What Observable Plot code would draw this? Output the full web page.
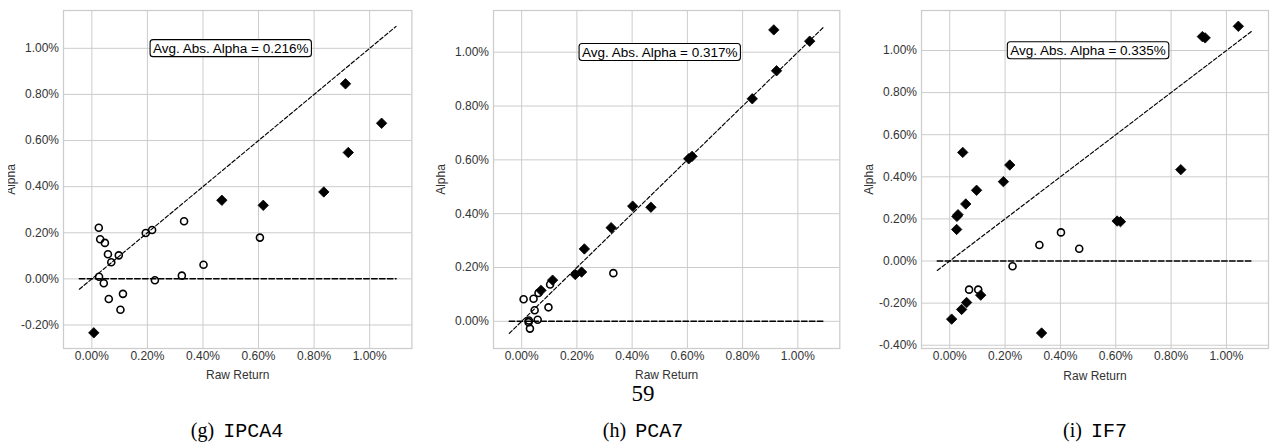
<!DOCTYPE html>
<html><head><meta charset="utf-8">
<script src="https://cdn.jsdelivr.net/npm/d3@7"></script>
<script src="https://cdn.jsdelivr.net/npm/@observablehq/plot@0.6"></script>
<style>
body{margin:0;background:#fff;}
#page{position:relative;width:1286px;height:447px;overflow:hidden;background:#fff;}
.clip{position:absolute;top:0;overflow:hidden;height:392px;}
.clip svg{position:absolute;top:0;max-width:none !important;height:auto;}
.clip svg text{font-family:"Liberation Sans", Arial, sans-serif;}
.cap{position:absolute;transform:translate(-50%,-50%);white-space:nowrap;font-family:"Liberation Serif",serif;font-size:20px;color:#000;line-height:1;}
.cap .tt{font-family:"Liberation Mono",monospace;margin-left:9px;}
</style></head><body><div id="page"></div>
<script>
// ---- data (percent units) ----
const rawReturn = [0.007, 0.025, 0.026, 0.030, 0.043, 0.047, 0.058, 0.061, 0.070, 0.097, 0.103, 0.112, 0.194, 0.217, 0.227, 0.324, 0.332, 0.402, 0.468, 0.605, 0.617, 0.835, 0.913, 0.923, 1.043];

const alphaIPCA4 = [-0.234, 0.222, 0.009, 0.172, -0.019, 0.156, 0.107, -0.087, 0.072, 0.102, -0.134, -0.065, 0.199, 0.212, -0.006, 0.014, 0.250, 0.061, 0.341, 0.179, 0.319, 0.377, 0.846, 0.548, 0.675];
const sigIPCA4   = [1, 0, 0, 0, 0, 0, 0, 0, 0, 0, 0, 0, 0, 0, 0, 0, 0, 0, 1, 0, 1, 1, 1, 1, 1];

const alphaPCA7  = [0.082, -0.003, 0.003, -0.027, 0.084, 0.041, 0.006, 0.105, 0.115, 0.052, 0.137, 0.153, 0.174, 0.183, 0.269, 0.348, 0.179, 0.428, 0.424, 0.604, 0.613, 0.827, 1.083, 0.931, 1.041];
const sigPCA7    = [0, 0, 0, 0, 0, 0, 0, 0, 1, 0, 0, 1, 1, 1, 1, 1, 0, 1, 1, 1, 1, 1, 1, 1, 1];

const alphaIF7   = [-0.276, 0.150, 0.212, 0.220, -0.230, 0.516, 0.271, -0.197, -0.136, 0.336, -0.136, -0.162, 0.377, 0.456, -0.025, 0.076, -0.342, 0.136, 0.058, 0.190, 0.187, 0.434, 1.066, 1.060, 1.115];
const sigIF7     = [1, 1, 1, 1, 1, 1, 1, 1, 0, 1, 0, 1, 1, 1, 0, 0, 1, 0, 0, 1, 1, 1, 1, 1, 1];

const panelLetters = ["(g)", "(h)", "(i)"];
const panelNames = ["IPCA4", "PCA7", "IF7"];
const avgAbsAlphaLabels = ["Avg. Abs. Alpha = 0.216%", "Avg. Abs. Alpha = 0.317%", "Avg. Abs. Alpha = 0.335%"];
const xTicks = [0, 0.2, 0.4, 0.6, 0.8, 1.0];
const yTicksIPCA4 = [-0.2, 0, 0.2, 0.4, 0.6, 0.8, 1.0];
const yTicksPCA7 = [0, 0.2, 0.4, 0.6, 0.8, 1.0];
const yTicksIF7 = [-0.4, -0.2, 0, 0.2, 0.4, 0.6, 0.8, 1.0];
const refLineX = [-0.045, 1.095];
const annotX = [0.5];
const annotY = [1.0];
const pageNumber = "59";

// ---- layout ----
const panels = [
  {alpha: alphaIPCA4, sig: sigIPCA4, yTicks: yTicksIPCA4, yDomain: [-0.302, 1.164], frameLeft: 63.3, frameRight: 411.7, clipLeft: 8, capX: 237},
  {alpha: alphaPCA7, sig: sigPCA7, yTicks: yTicksPCA7, yDomain: [-0.101, 1.155], frameLeft: 492.7, frameRight: 839, clipLeft: 425, capX: 643},
  {alpha: alphaIF7, sig: sigIF7, yTicks: yTicksIF7, yDomain: [-0.4155, 1.190], frameLeft: 920.7, frameRight: 1267.7, clipLeft: 863.5, capX: 1095}
];
const ML = 70, MR = 12, MT = 10, H = 392, frameBottom = 348;
const FONT = '"Liberation Sans", Arial, sans-serif';
const fmt = d => d.toFixed(2) + "%";
const page = document.getElementById("page");

panels.forEach((p, k) => {
  const data = rawReturn.map((x, i) => ({x, y: p.alpha[i], sig: p.sig[i] === 1}));
  const width = p.frameRight - p.frameLeft + ML + MR;
  const chart = Plot.plot({
    width, height: H,
    marginLeft: ML, marginRight: MR, marginTop: MT, marginBottom: H - frameBottom,
    style: {fontFamily: FONT, fontSize: "12px", color: "#333", background: "transparent"},
    x: {domain: [-0.102, 1.152]},
    y: {domain: p.yDomain},
    marks: [
      Plot.gridX(xTicks, {stroke: "#cccccc", strokeOpacity: 1, strokeWidth: 1}),
      Plot.gridY(p.yTicks, {stroke: "#cccccc", strokeOpacity: 1, strokeWidth: 1}),
      Plot.frame({stroke: "#cccccc", strokeWidth: 1.25}),
      Plot.axisX(xTicks, {tickSize: 0, tickPadding: 3, tickFormat: fmt, label: "Raw Return", labelAnchor: "center", labelArrow: "none", labelOffset: 31, fontSize: 12, fontFamily: FONT, fill: "#333"}),
      Plot.axisY(p.yTicks, {tickSize: 0, tickPadding: 4.5, tickFormat: fmt, label: "Alpha", labelAnchor: "center", labelArrow: "none", labelOffset: 57, fontSize: 12, fontFamily: FONT, fill: "#333"}),
      Plot.line(refLineX, {x: d => d, y: d => d, stroke: "black", strokeWidth: 1.15, strokeDasharray: "4,2.2"}),
      Plot.line(refLineX, {x: d => d, y: () => 0, stroke: "black", strokeWidth: 1.5, strokeDasharray: "5.5,2.4"}),
      Plot.dot(data.filter(d => !d.sig), {x: "x", y: "y", r: 3.5, fill: "none", stroke: "black", strokeWidth: 1.6}),
      Plot.dot(data.filter(d => d.sig), {x: "x", y: "y", r: 4.7, symbol: "diamond2", fill: "black", stroke: "black", strokeWidth: 0.8}),
      Plot.text([avgAbsAlphaLabels[k]], {x: () => annotX[0], y: () => annotY[0], text: d => d, fontSize: 13.5, fontFamily: FONT, fill: "black", className: "annot"})
    ]
  });
  chart.setAttribute("font-size", 12);
  const clip = document.createElement("div");
  clip.className = "clip";
  clip.style.left = p.clipLeft + "px";
  clip.style.width = (p.frameRight + MR - p.clipLeft) + "px";
  chart.style.left = (p.frameLeft - ML - p.clipLeft) + "px";
  chart.style.width = width + "px";
  chart.style.height = H + "px";
  clip.appendChild(chart);
  page.appendChild(clip);

  // rounded box behind annotation text
  chart.querySelectorAll(".annot text").forEach(t => {
    const bb = t.getBBox();
    const r = document.createElementNS("http://www.w3.org/2000/svg", "rect");
    r.setAttribute("x", bb.x - 3);
    r.setAttribute("y", bb.y - 1);
    r.setAttribute("width", bb.width + 6);
    r.setAttribute("height", bb.height + 2);
    r.setAttribute("rx", 3);
    r.setAttribute("fill", "white");
    r.setAttribute("stroke", "black");
    r.setAttribute("stroke-width", 1.1);
    if (t.getAttribute("transform")) r.setAttribute("transform", t.getAttribute("transform"));
    t.parentNode.insertBefore(r, t);
  });

  const cap = document.createElement("div");
  cap.className = "cap";
  cap.style.left = p.capX + "px";
  cap.style.top = "431px";
  cap.innerHTML = `<span>${panelLetters[k]}</span><span class="tt">${panelNames[k]}</span>`;
  page.appendChild(cap);
});

const pn = document.createElement("div");
pn.className = "cap";
pn.style.left = "643px";
pn.style.top = "393px";
pn.style.fontSize = "23px";
pn.textContent = pageNumber;
page.appendChild(pn);
</script>
</body></html>
